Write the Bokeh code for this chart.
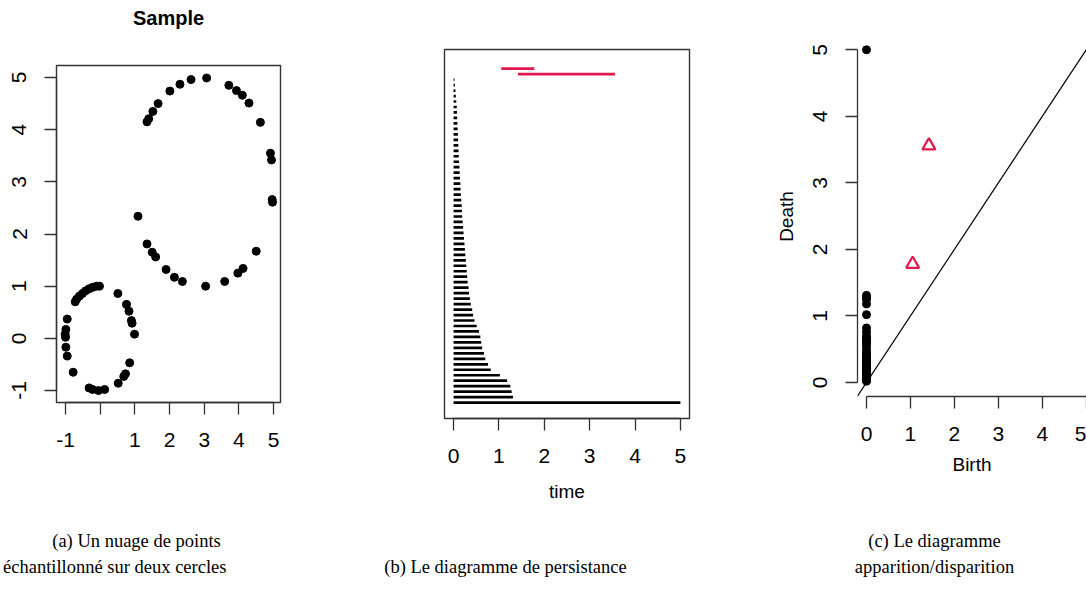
from bokeh.plotting import figure
from bokeh.layouts import row, column
from bokeh.models import FixedTicker, Slope, Range1d, Title
from bokeh.core.properties import value
from bokeh.embed import file_html
from bokeh.resources import INLINE

# ---------------- data ----------------
# (a) sample: small circle (r=1, centre 0,0) and big circle (r=2, centre 3,3)
small_x = [-0.72, -0.68, -0.60, -0.51, -0.42, -0.32, -0.21, -0.10, -0.02,
           0.51, 0.76, 0.83, 0.90, 0.92, 0.99,
           0.85, 0.73, 0.68, 0.52,
           0.13, -0.05, -0.22, -0.32,
           -0.78, -0.95, -0.99, -1.00, -1.01, -0.99, -0.95]
small_y = [0.70, 0.75, 0.81, 0.86, 0.91, 0.95, 0.98, 1.00, 1.00,
           0.86, 0.65, 0.52, 0.34, 0.29, 0.08,
           -0.47, -0.68, -0.73, -0.86,
           -0.98, -1.00, -0.98, -0.95,
           -0.65, -0.34, -0.17, 0.02, 0.08, 0.17, 0.37]
big_x = [1.09, 1.35, 1.50, 1.60, 1.90, 2.14, 2.37, 3.04, 3.59, 3.97, 4.12, 4.50,
         4.96, 4.97, 4.91, 4.94, 4.62, 4.29, 4.10, 3.93, 3.71, 3.07, 2.62, 2.30,
         2.01, 1.67, 1.52, 1.40, 1.35]
big_y = [2.34, 1.81, 1.65, 1.56, 1.32, 1.17, 1.09, 1.00, 1.09, 1.25, 1.34, 1.67,
         2.66, 2.61, 3.55, 3.42, 4.14, 4.51, 4.66, 4.75, 4.85, 4.99, 4.96, 4.87,
         4.74, 4.50, 4.35, 4.21, 4.15]

# (b)/(c) persistence: dimension 0 deaths (first = essential, capped at 5)
h0_death = [5.0, 1.31, 1.28, 1.25, 1.18, 1.02, 0.82, 0.76, 0.70, 0.67, 0.63,
            0.61, 0.59, 0.56, 0.51, 0.46, 0.43, 0.41, 0.38, 0.36, 0.34,
            0.33, 0.31, 0.30, 0.29, 0.28, 0.27, 0.26, 0.25, 0.24, 0.23,
            0.22, 0.21, 0.20, 0.19, 0.185, 0.18, 0.17, 0.16, 0.155, 0.15,
            0.14, 0.135, 0.13, 0.12, 0.115, 0.11, 0.105, 0.10, 0.095, 0.09,
            0.085, 0.08, 0.075, 0.07, 0.06, 0.05, 0.04, 0.03, 0.02]
h1_birth = [1.42, 1.05]
h1_death = [3.56, 1.78]

ticks_a = [-1, 0, 1, 2, 3, 4, 5]
ticks_05 = [0, 1, 2, 3, 4, 5]

captions = ["(a) Un nuage de points", "échantillonné sur deux cercles",
            "(b) Le diagramme de persistance",
            "(c) Le diagramme", "apparition/disparition"]

RED = "#E3184C"
AX = "#333333"
SANS = "Liberation Sans"
SERIF = "Liberation Serif"
H_TOP = 515
H_CAP = 80
W_TOTAL = 1086


def style_axis(ax, ticks, bounds, overrides=None):
    ax.ticker = FixedTicker(ticks=ticks)
    ax.bounds = bounds
    ax.axis_line_color = AX
    ax.axis_line_width = 1.3
    ax.major_tick_line_color = AX
    ax.major_tick_line_width = 1.3
    ax.major_tick_out = 12
    ax.major_tick_in = 0
    ax.minor_tick_line_color = None
    ax.major_label_text_font = SANS
    ax.major_label_text_font_size = "21px"
    ax.major_label_text_color = "black"
    ax.major_label_standoff = 18
    ax.axis_label_text_font = SANS
    ax.axis_label_text_font_style = "normal"
    ax.axis_label_text_font_size = "19px"
    ax.axis_label_text_color = "black"
    if overrides:
        ax.major_label_overrides = overrides


def base_fig(width, height, xr, yr, left, right, top, bottom):
    p = figure(width=width, height=height, x_range=xr, y_range=yr,
               output_backend="svg", toolbar_location=None, frame_align=False,
               min_border_left=left, min_border_right=right,
               min_border_top=top, min_border_bottom=bottom)
    p.grid.visible = False
    return p


# ---------------- (a) sample ----------------
pa = base_fig(370, H_TOP, Range1d(-1.26, 5.2), Range1d(-1.23, 5.23), 56, 90, 65, H_TOP - 402)
pa.outline_line_color = AX
pa.outline_line_width = 1.4
pa.scatter(small_x + big_x, small_y + big_y, size=8, color="black")
style_axis(pa.xaxis[0], ticks_a, (-1, 5), {0: "", -1: "-1"})
style_axis(pa.yaxis[0], ticks_a, (-1, 5), {-1: "-1"})
pa.yaxis.major_label_orientation = "vertical"
# empty spacer title between the frame and the main title, pushes "Sample" upward
pa.add_layout(Title(text=" ", text_font_size="1px", standoff=34), "above")
pa.title.text = "Sample"
pa.title.align = "center"
pa.title.text_font = SANS
pa.title.text_font_size = "20px"
pa.title.text_font_style = "bold"
pa.title.text_color = "black"
pa.title.standoff = 0

# ---------------- (b) barcode ----------------
pb = base_fig(390, H_TOP, Range1d(-0.2, 5.2), Range1d(-1.9, 65.5), 74, 71, 49, H_TOP - 418)
pb.outline_line_color = AX
pb.outline_line_width = 1.4
pb.yaxis.visible = False
n0 = len(h0_death)
idx0 = list(range(1, n0 + 1))
idx1 = list(range(n0 + 1, n0 + 1 + len(h1_birth)))
pb.segment(x0=[0] * n0, y0=idx0, x1=h0_death, y1=idx0, line_color="black", line_width=2.7)
pb.segment(x0=h1_birth, y0=idx1, x1=h1_death, y1=idx1, line_color=RED, line_width=2.6)
style_axis(pb.xaxis[0], ticks_05, (0, 5))
pb.xaxis.axis_label = "time"
pb.xaxis.axis_label_standoff = 15

# ---------------- (c) birth/death diagram ----------------
pc = base_fig(326, H_TOP, Range1d(-0.205, 5.007), Range1d(-0.21, 5.2), 97, 0, 36, H_TOP - 396)
pc.outline_line_color = None
pc.add_layout(Slope(gradient=1, y_intercept=0, line_color="black", line_width=1.2))
pc.scatter([0] * n0, h0_death, size=8, color="black")
pc.scatter(h1_birth, h1_death, marker="triangle", size=13, fill_color=None,
           line_color=RED, line_width=2.2)
style_axis(pc.xaxis[0], ticks_05, (0, 5))
style_axis(pc.yaxis[0], ticks_05, (0, 5))
pc.yaxis.major_label_orientation = "vertical"
pc.xaxis.axis_label = "Birth"
pc.yaxis.axis_label = "Death"
pc.xaxis.axis_label_standoff = 10
pc.yaxis.axis_label_standoff = 14

# ---------------- captions strip (pixel-like coordinates) ----------------
cap = figure(width=W_TOTAL, height=H_CAP, x_range=Range1d(0, W_TOTAL), y_range=Range1d(0, H_CAP),
             output_backend="svg", toolbar_location=None, frame_align=False,
             min_border=0, min_border_left=0, min_border_right=0,
             min_border_top=0, min_border_bottom=0)
cap.axis.visible = False
cap.grid.visible = False
cap.outline_line_color = None
cap_x = [136, 226, 505, 934, 934]
cap_y = [55, 29, 29, 55, 29]
cap_align = ["center", "right", "center", "center", "center"]
cap.text(x=cap_x, y=cap_y, text=captions, text_align=cap_align,
         text_baseline="middle", text_font=value(SERIF), text_font_size="18.5px",
         text_color="black")

layout = column(row(pa, pb, pc, spacing=0), cap, spacing=0)
open("out.html", "w").write(file_html(layout, INLINE))
